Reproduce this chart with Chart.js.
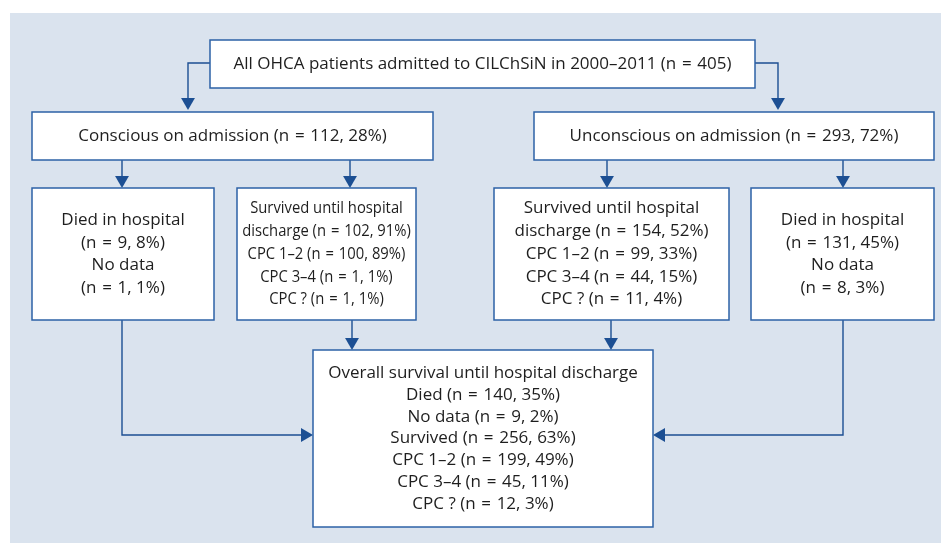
<!DOCTYPE html>
<html>
<head>
<meta charset="utf-8">
<script src="https://cdn.jsdelivr.net/npm/chart.js@4"></script>
<style>
  html, body { margin: 0; padding: 0; background: #ffffff; }
  #wrap { width: 941px; height: 543px; position: relative; }
</style>
</head>
<body>
<div id="wrap"><canvas id="flowChart"></canvas></div>
<script>
// Flow chart texts
let allPatients = ['All OHCA patients admitted to CILChSiN in 2000–2011 (n = 405)'];
let conscious = ['Conscious on admission (n = 112, 28%)'];
let unconscious = ['Unconscious on admission (n = 293, 72%)'];
let consciousDied = ['Died in hospital', '(n = 9, 8%)', 'No data', '(n = 1, 1%)'];
let consciousSurvived = ['Survived until hospital', 'discharge (n = 102, 91%)', 'CPC 1–2 (n = 100, 89%)', 'CPC 3–4 (n = 1, 1%)', 'CPC ? (n = 1, 1%)'];
let unconsciousSurvived = ['Survived until hospital', 'discharge (n = 154, 52%)', 'CPC 1–2 (n = 99, 33%)', 'CPC 3–4 (n = 44, 15%)', 'CPC ? (n = 11, 4%)'];
let unconsciousDied = ['Died in hospital', '(n = 131, 45%)', 'No data', '(n = 8, 3%)'];
let overall = ['Overall survival until hospital discharge', 'Died (n = 140, 35%)', 'No data (n = 9, 2%)', 'Survived (n = 256, 63%)', 'CPC 1–2 (n = 199, 49%)', 'CPC 3–4 (n = 45, 11%)', 'CPC ? (n = 12, 3%)'];

// Layout in scale units (x: 0..941, y: 0..543 top-down)
// sx = horizontal squeeze of the text (the left survival box is condensed in the original)
const boxes = [
  { text: allPatients,         x0: 210, y0: 40,  x1: 755, y1: 88,  sx: 1,    lh: 22 },
  { text: conscious,           x0: 32,  y0: 112, x1: 433, y1: 160, sx: 1,    lh: 22 },
  { text: unconscious,         x0: 534, y0: 112, x1: 934, y1: 160, sx: 1,    lh: 22 },
  { text: consciousDied,       x0: 32,  y0: 188, x1: 214, y1: 320, sx: 1,    lh: 22.5 },
  { text: consciousSurvived,   x0: 237, y0: 188, x1: 416, y1: 320, sx: 0.87, lh: 22.7 },
  { text: unconsciousSurvived, x0: 494, y0: 188, x1: 729, y1: 320, sx: 1,    lh: 22.7 },
  { text: unconsciousDied,     x0: 751, y0: 188, x1: 934, y1: 320, sx: 1,    lh: 22.5 },
  { text: overall,             x0: 313, y0: 350, x1: 653, y1: 527, sx: 1,    lh: 21.8 }
];

// connectors: list of points, arrowhead on last point with given rotation
const connectors = [
  { pts: [[210, 63], [188, 63], [188, 102]], rot: 180 },
  { pts: [[755, 63], [778, 63], [778, 102]], rot: 180 },
  { pts: [[122, 160], [122, 180]], rot: 180 },
  { pts: [[350, 160], [350, 180]], rot: 180 },
  { pts: [[607, 160], [607, 180]], rot: 180 },
  { pts: [[843, 160], [843, 180]], rot: 180 },
  { pts: [[352, 320], [352, 342]], rot: 180 },
  { pts: [[611, 320], [611, 342]], rot: 180 },
  { pts: [[122, 320], [122, 435], [305, 435]], rot: 90 },
  { pts: [[843, 320], [843, 435], [661, 435]], rot: 270 }
];

const lineColor = '#1c4f93';
const borderColor = '#2d62a6';
const panelColor = '#dae3ee';
const textColor = '#1e1e1e';
const fontFamily = '"Open Sans", "Noto Sans", sans-serif';
const fontSize = 17;

const datasets = connectors.map(c => ({
  type: 'line',
  data: c.pts.map(p => ({ x: p[0], y: p[1] })),
  borderColor: lineColor,
  backgroundColor: lineColor,
  borderWidth: 1.4,
  tension: 0,
  fill: false,
  pointStyle: 'triangle',
  pointRotation: c.rot,
  pointBorderWidth: 0,
  pointRadius: ctx => ctx.dataIndex === c.pts.length - 1 ? 8 : 0,
  pointHoverRadius: 0
}));

const flowPlugin = {
  id: 'flowBoxes',
  beforeDatasetsDraw(chart) {
    const { ctx, scales: { x, y } } = chart;
    ctx.save();
    // panel
    ctx.fillStyle = panelColor;
    const px0 = x.getPixelForValue(10), py0 = y.getPixelForValue(13);
    ctx.fillRect(px0, py0, x.getPixelForValue(941) - px0, y.getPixelForValue(543) - py0);
    ctx.restore();
  },
  afterDatasetsDraw(chart) {
    const { ctx, scales: { x, y } } = chart;
    ctx.save();
    boxes.forEach(b => {
      const l = x.getPixelForValue(b.x0), t = y.getPixelForValue(b.y0);
      const r = x.getPixelForValue(b.x1), bt = y.getPixelForValue(b.y1);
      ctx.fillStyle = '#ffffff';
      ctx.fillRect(l, t, r - l, bt - t);
      ctx.strokeStyle = borderColor;
      ctx.lineWidth = 1.5;
      ctx.strokeRect(l, t, r - l, bt - t);
      ctx.fillStyle = textColor;
      ctx.font = fontSize + 'px ' + fontFamily;
      ctx.textAlign = 'center';
      ctx.textBaseline = 'middle';
      const cx = (l + r) / 2, cy = (t + bt) / 2;
      const n = b.text.length;
      b.text.forEach((s, i) => {
        // the original sets "=" with a little more room around it
        const str = s.replace(/ = /g, '\u2004=\u2004');
        ctx.save();
        ctx.translate(cx, cy + (i - (n - 1) / 2) * b.lh);
        ctx.scale(b.sx, 1);
        ctx.fillText(str, 0, 0);
        ctx.restore();
      });
    });
    ctx.restore();
  }
};

new Chart(document.getElementById('flowChart').getContext('2d'), {
  type: 'line',
  data: { datasets: datasets },
  options: {
    responsive: true,
    maintainAspectRatio: false,
    animation: false,
    layout: { padding: 0, autoPadding: false },
    plugins: { legend: { display: false }, tooltip: { enabled: false } },
    events: [],
    scales: {
      x: { type: 'linear', min: 0, max: 941, display: false },
      y: { type: 'linear', min: 0, max: 543, reverse: true, display: false }
    }
  },
  plugins: [flowPlugin]
});
</script>
</body>
</html>
